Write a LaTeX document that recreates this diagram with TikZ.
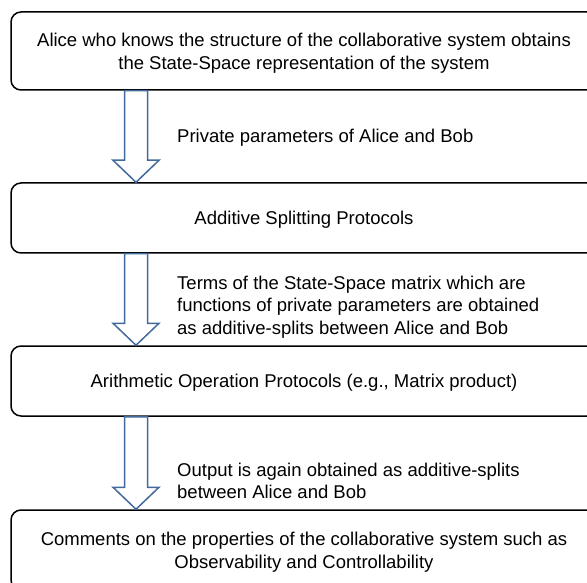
\documentclass[tikz,border=0pt]{standalone}
\usepackage{fontspec}
\setmainfont{Liberation Sans}
\usetikzlibrary{calc}
\definecolor{arrowblue}{RGB}{66,106,156}
\tikzset{
  flowbox/.style={draw=black, line width=1.5pt, rounded corners=10pt, fill=white,
    minimum width=586pt, align=center, inner sep=0pt, text depth=0pt,
    font=\fontsize{18.5}{23.2}\selectfont},
  lbl/.style={anchor=west, align=left, inner sep=0pt,
    font=\fontsize{18.5}{22.7}\selectfont},
  barrow/.style={draw=arrowblue, line width=1.5pt, fill=white, line join=miter}
}
\newcommand\blockarrow[2]{%
  \draw[barrow] let \p1=(#1.south), \p2=(#2.north) in
    (124.5pt,\y1) -- (124.5pt,\y2+22pt) -- (113pt,\y2+22pt) -- (136pt,\y2)
    -- (159pt,\y2+22pt) -- (147.5pt,\y2+22pt) -- (147.5pt,\y1) -- cycle;}
\begin{document}
\begin{tikzpicture}[x=1pt,y=1pt]
\clip (0,0) rectangle (587,-583);
\fill[white] (0,0) rectangle (587,-583);
\node[flowbox, minimum height=78pt] (b1) at (304,-51)
  {Alice who knows the structure of the collaborative system obtains\\the State-Space representation of the system};
\node[flowbox, minimum height=70pt] (b2) at (304,-218) {Additive Splitting Protocols};
\node[flowbox, minimum height=70pt] (b3) at (304,-381) {Arithmetic Operation Protocols (e.g., Matrix product)};
\node[flowbox, minimum height=80pt] (b4) at (304,-550)
  {Comments on the properties of the collaborative system such as\\Observability and Controllability};
\blockarrow{b1}{b2}
\blockarrow{b2}{b3}
\blockarrow{b3}{b4}
\node[lbl] (l1) at (177,-138) {Private parameters of Alice and Bob};
\node[lbl] (l2) at (177,-307) {Terms of the State-Space matrix which are\\functions of private parameters are obtained\\as additive-splits between Alice and Bob};
\node[lbl] (l3) at (177,-481) {Output is again obtained as additive-splits\\between Alice and Bob};
\end{tikzpicture}
\end{document}
